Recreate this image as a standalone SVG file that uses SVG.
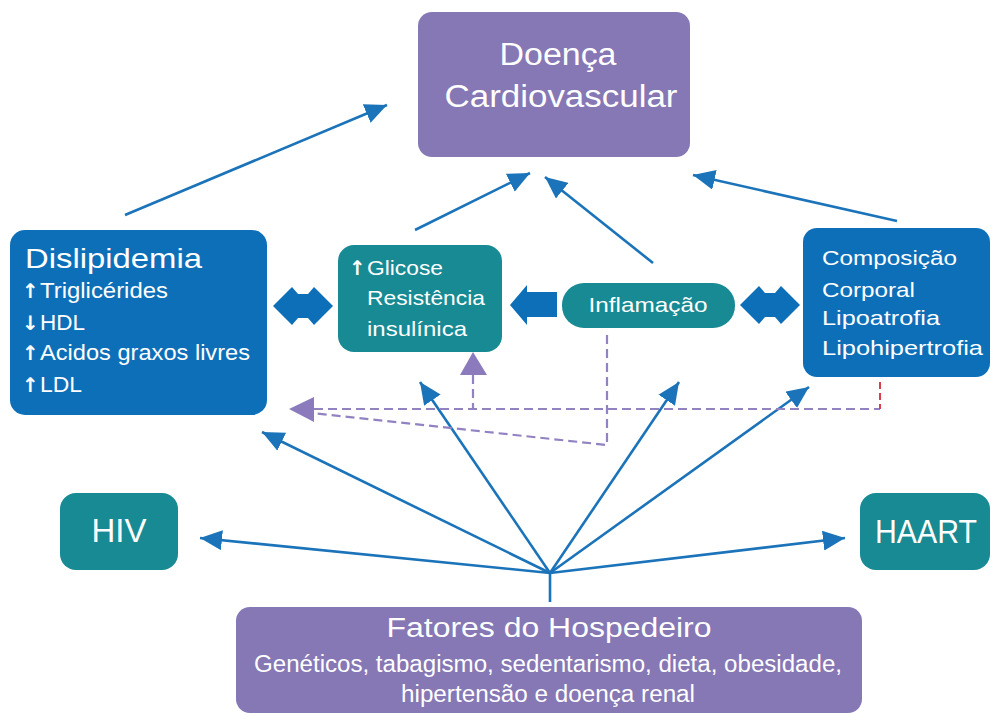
<svg xmlns="http://www.w3.org/2000/svg" width="993" height="715" viewBox="0 0 993 715">
<style>
  text { font-family: "Liberation Sans", "DejaVu Sans", sans-serif; fill: #ffffff; }
  .purple { fill: #8677b5; }
  .blue { fill: #0e6fb9; }
  .teal { fill: #178a93; }
  .conn { stroke: #1b73b9; stroke-width: 2.6; fill: none; }
  .dash { stroke: #9282c2; stroke-width: 2.2; fill: none; stroke-dasharray: 9 5; }
  .red { stroke: #d6404d; stroke-width: 2; fill: none; stroke-dasharray: 7 4; }
  .blk { fill: #0e6fb9; }
  .ptri { fill: #8b7bbd; }
  .arr { font-family: "DejaVu Sans", sans-serif; font-weight: bold; }
</style>
<defs>
  <marker id="ah" markerUnits="userSpaceOnUse" markerWidth="24" markerHeight="20" refX="22" refY="10" orient="auto">
    <path d="M0,0 L22,10 L0,20 Z" fill="#1b73b9"/>
  </marker>
</defs>

<g id="connectors">
  <line class="conn" x1="125" y1="215" x2="387" y2="105" marker-end="url(#ah)"/>
  <line class="conn" x1="415" y1="230" x2="530" y2="173" marker-end="url(#ah)"/>
  <line class="conn" x1="653" y1="263" x2="545" y2="177" marker-end="url(#ah)"/>
  <line class="conn" x1="897" y1="221" x2="693" y2="175" marker-end="url(#ah)"/>
  <line class="conn" x1="550" y1="602" x2="550" y2="573"/>
  <line class="conn" x1="550" y1="573" x2="200" y2="538" marker-end="url(#ah)"/>
  <line class="conn" x1="550" y1="573" x2="845" y2="538" marker-end="url(#ah)"/>
  <line class="conn" x1="550" y1="573" x2="262" y2="432" marker-end="url(#ah)"/>
  <line class="conn" x1="550" y1="573" x2="420" y2="382" marker-end="url(#ah)"/>
  <line class="conn" x1="550" y1="573" x2="679" y2="382" marker-end="url(#ah)"/>
  <line class="conn" x1="550" y1="573" x2="809" y2="387" marker-end="url(#ah)"/>
  <polygon class="blk" points="273,306 292,287 298,294 308,294 314,287 333,306 314,325 308,318 298,318 292,325"/>
  <polygon class="blk" points="740,305 759,286 765,293 775,293 781,286 800,305 781,324 775,317 765,317 759,324"/>
  <polygon class="blk" points="510,305 527,285 527,292 557,292 557,317 527,317 527,325"/>
  <polyline class="dash" points="314,409 880,409"/>
  <line class="red" x1="880" y1="382" x2="880" y2="409"/>
  <line class="dash" x1="473" y1="375" x2="473" y2="409"/>
  <polyline class="dash" points="607,335 607,445 312,413"/>
  <polygon class="ptri" points="289,409 314,397 314,422"/>
  <polygon class="ptri" points="473,352 460,375 487,375"/>
</g>

<g id="doenca">
  <rect class="purple" x="418" y="12" width="272" height="145" rx="14"/>
  <text x="558" y="65" font-size="31" text-anchor="middle" textLength="117" lengthAdjust="spacingAndGlyphs">Doença</text>
  <text x="561" y="107" font-size="31" text-anchor="middle" textLength="233" lengthAdjust="spacingAndGlyphs">Cardiovascular</text>
</g>

<g id="dislipidemia">
  <rect class="blue" x="10" y="230" width="257" height="185" rx="15"/>
  <text x="25" y="268" font-size="28" textLength="177" lengthAdjust="spacingAndGlyphs">Dislipidemia</text>
  <text x="22" y="298" font-size="20" class="arr">↑</text>
  <text x="40" y="298" font-size="22" textLength="128" lengthAdjust="spacingAndGlyphs">Triglicérides</text>
  <text x="22" y="330" font-size="20" class="arr">↓</text>
  <text x="40" y="330" font-size="22" textLength="45" lengthAdjust="spacingAndGlyphs">HDL</text>
  <text x="22" y="360" font-size="20" class="arr">↑</text>
  <text x="40" y="360" font-size="22" textLength="210" lengthAdjust="spacingAndGlyphs">Acidos graxos livres</text>
  <text x="22" y="392" font-size="20" class="arr">↑</text>
  <text x="40" y="392" font-size="22" textLength="42" lengthAdjust="spacingAndGlyphs">LDL</text>
</g>

<g id="glicose">
  <rect class="teal" x="338" y="245" width="164" height="107" rx="16"/>
  <text x="349" y="275" font-size="20" class="arr">↑</text>
  <text x="367" y="275" font-size="21" textLength="76" lengthAdjust="spacingAndGlyphs">Glicose</text>
  <text x="367" y="305" font-size="21" textLength="118" lengthAdjust="spacingAndGlyphs">Resistência</text>
  <text x="367" y="336" font-size="21" textLength="100" lengthAdjust="spacingAndGlyphs">insulínica</text>
</g>

<g id="inflamacao">
  <rect class="teal" x="562" y="283" width="173" height="45" rx="22"/>
  <text x="648" y="312" font-size="21" text-anchor="middle" textLength="119" lengthAdjust="spacingAndGlyphs">Inflamação</text>
</g>

<g id="composicao">
  <rect class="blue" x="803" y="228" width="187" height="149" rx="14"/>
  <text x="822" y="265" font-size="21" textLength="135" lengthAdjust="spacingAndGlyphs">Composição</text>
  <text x="822" y="297" font-size="21" textLength="93" lengthAdjust="spacingAndGlyphs">Corporal</text>
  <text x="822" y="325" font-size="21" textLength="118" lengthAdjust="spacingAndGlyphs">Lipoatrofia</text>
  <text x="822" y="355" font-size="21" textLength="161" lengthAdjust="spacingAndGlyphs">Lipohipertrofia</text>
</g>

<g id="hiv">
  <rect class="teal" x="60" y="493" width="118" height="77" rx="16"/>
  <text x="119" y="542" font-size="34" text-anchor="middle" textLength="55" lengthAdjust="spacingAndGlyphs">HIV</text>
</g>

<g id="haart">
  <rect class="teal" x="860" y="493" width="130" height="77" rx="16"/>
  <text x="926" y="543" font-size="34" text-anchor="middle" textLength="102" lengthAdjust="spacingAndGlyphs">HAART</text>
</g>

<g id="fatores">
  <rect class="purple" x="236" y="607" width="626" height="106" rx="14"/>
  <text x="549" y="637" font-size="27" text-anchor="middle" textLength="325" lengthAdjust="spacingAndGlyphs">Fatores do Hospedeiro</text>
  <text x="548" y="672" font-size="23" text-anchor="middle" textLength="588" lengthAdjust="spacingAndGlyphs">Genéticos, tabagismo, sedentarismo, dieta, obesidade,</text>
  <text x="548" y="702" font-size="23" text-anchor="middle" textLength="294" lengthAdjust="spacingAndGlyphs">hipertensão e doença renal</text>
</g>
</svg>
